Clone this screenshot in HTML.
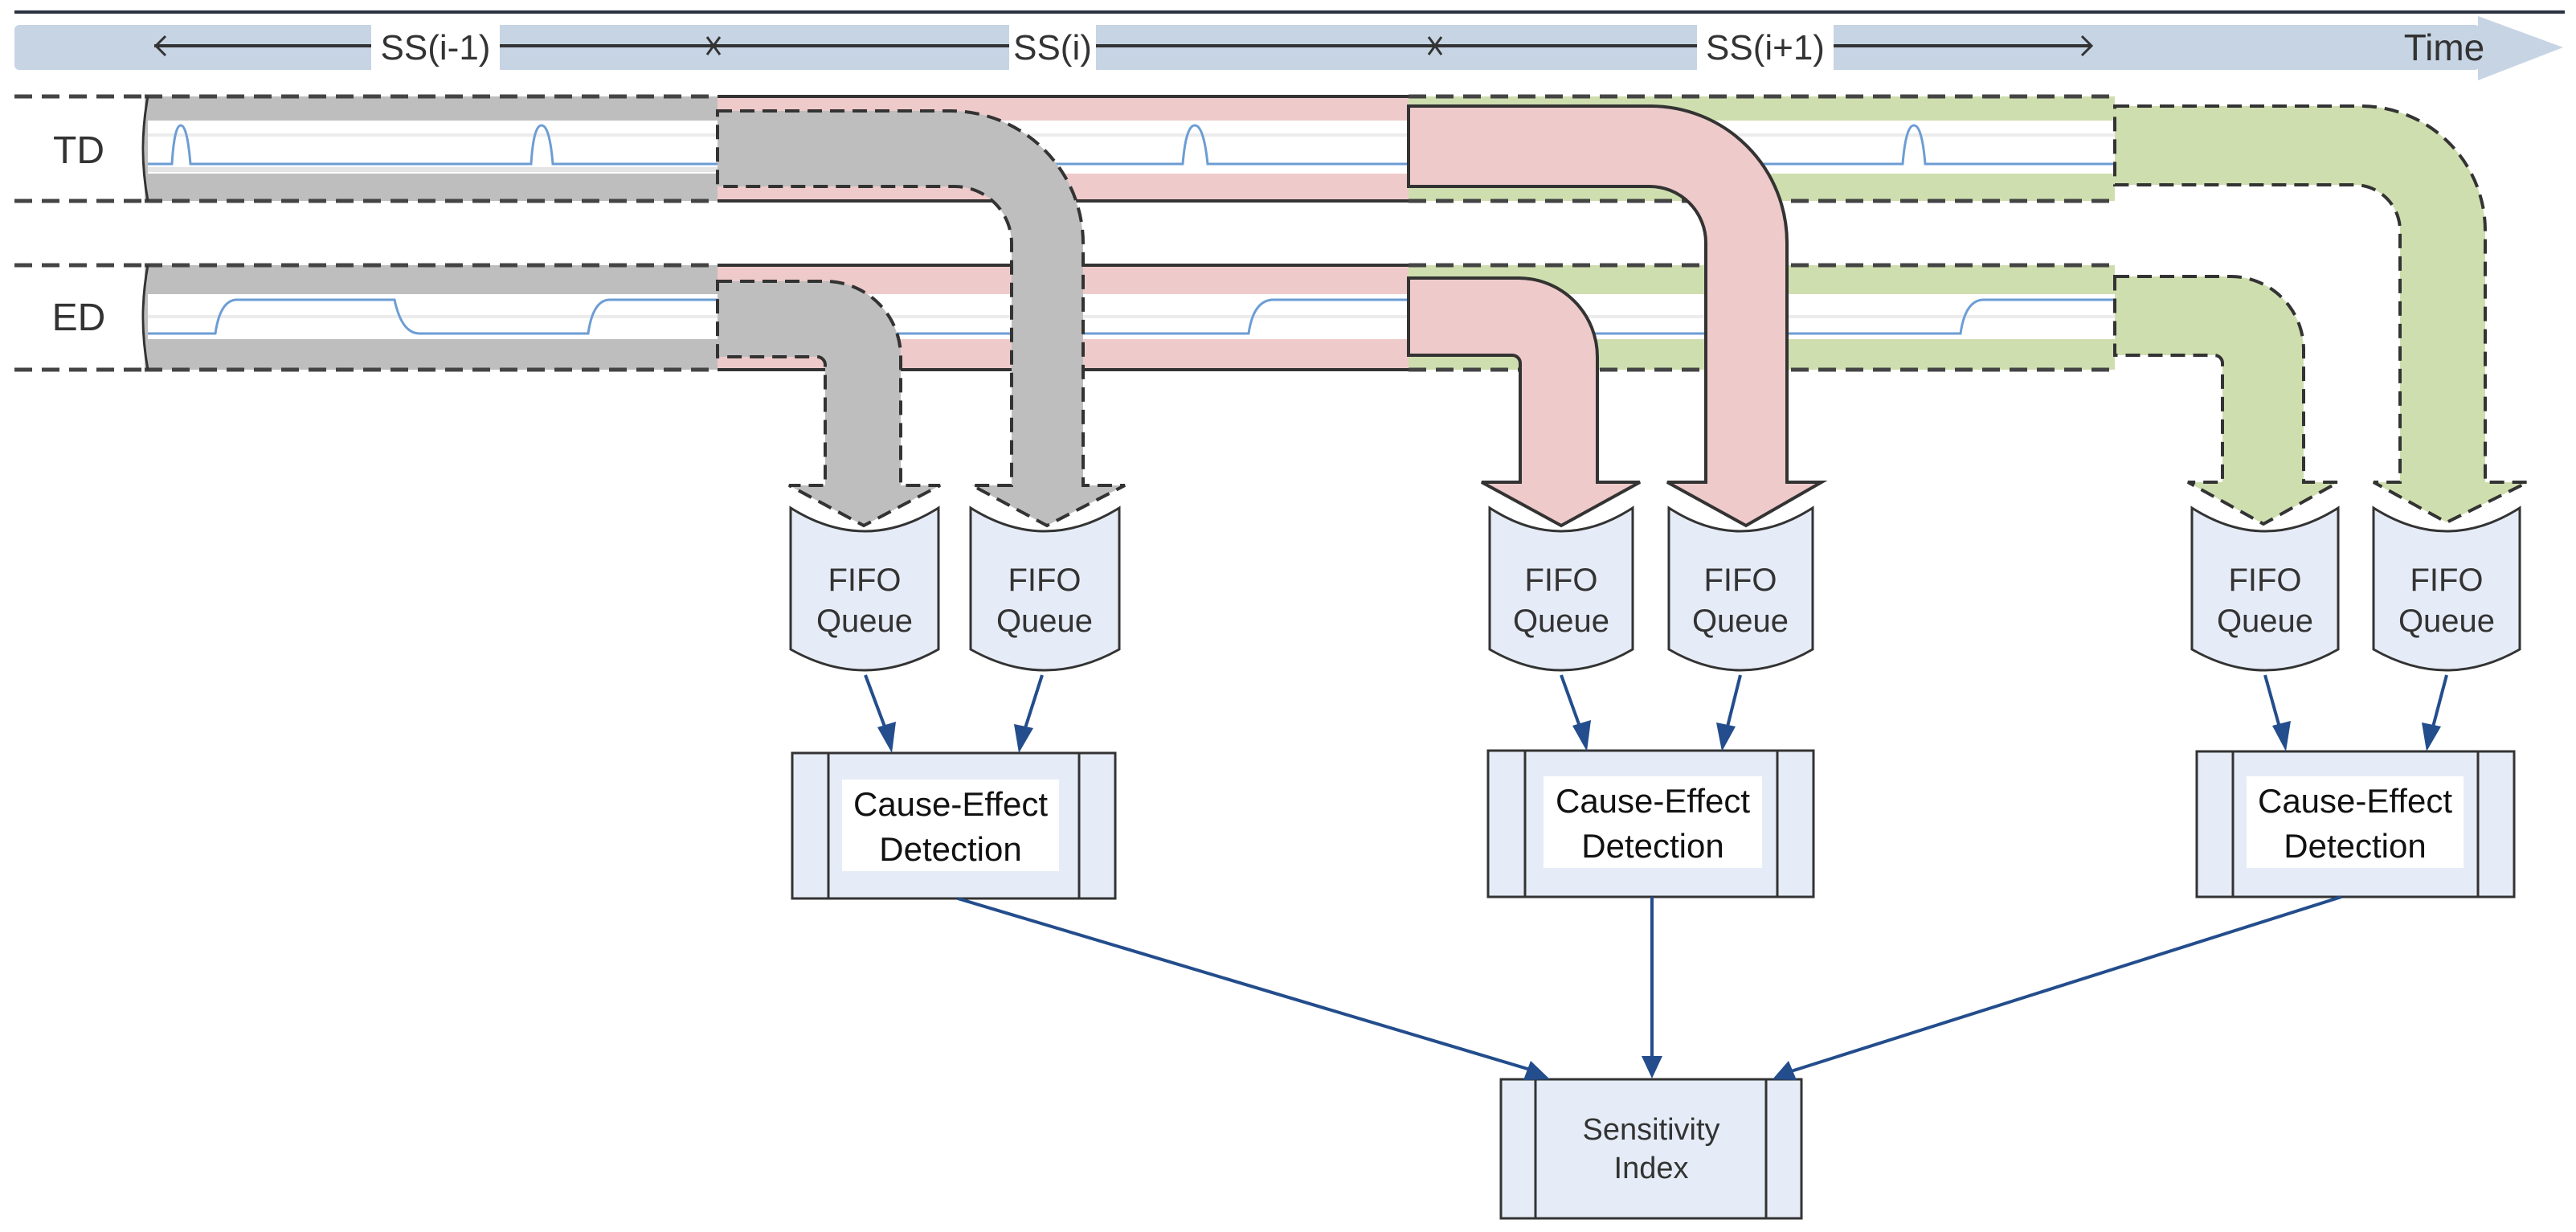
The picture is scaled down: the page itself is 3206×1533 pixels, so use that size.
<!DOCTYPE html>
<html><head><meta charset="utf-8"><style>
html,body{margin:0;padding:0;background:#fff;}
svg{display:block;}
text{font-family:"Liberation Sans",sans-serif;fill:#333;}
</style></head><body>
<svg width="3206" height="1533" viewBox="0 0 3206 1533" xmlns="http://www.w3.org/2000/svg">
<!-- top line -->
<line x1="18" y1="15" x2="3192" y2="15" stroke="#2b3340" stroke-width="4"/>
<!-- time bar -->
<rect x="18" y="31" width="3068" height="56" fill="#c6d4e4" rx="6"/>
<polygon points="3084,20 3190,59 3084,100" fill="#c6d4e4"/>
<rect x="462" y="31" width="160" height="56" fill="#fff"/>
<rect x="1256" y="31" width="108" height="56" fill="#fff"/>
<rect x="2112" y="31" width="170" height="56" fill="#fff"/>
<line x1="192" y1="57" x2="462" y2="57" stroke="#333" stroke-width="4"/>
<line x1="622" y1="57" x2="1256" y2="57" stroke="#333" stroke-width="4"/>
<line x1="1364" y1="57" x2="2112" y2="57" stroke="#333" stroke-width="4"/>
<line x1="2282" y1="57" x2="2603" y2="57" stroke="#333" stroke-width="4"/>
<polyline points="206,45 194,57 206,69" fill="none" stroke="#333" stroke-width="3"/>
<polyline points="2591,45 2603,57 2591,69" fill="none" stroke="#333" stroke-width="3"/>
<path d="M880,46 L896,68 M896,46 L880,68" stroke="#333" stroke-width="3"/>
<path d="M1778,46 L1794,68 M1794,46 L1778,68" stroke="#333" stroke-width="3"/>
<text x="542" y="74" font-size="44" text-anchor="middle">SS(i-1)</text>
<text x="1310" y="74" font-size="44" text-anchor="middle">SS(i)</text>
<text x="2197" y="74" font-size="44" text-anchor="middle">SS(i+1)</text>
<text x="3042" y="75" font-size="46" text-anchor="middle">Time</text>

<!-- labels -->
<text x="98" y="203" font-size="48" text-anchor="middle">TD</text>
<text x="98" y="411" font-size="48" text-anchor="middle">ED</text>
<g stroke="#444" stroke-width="5" stroke-dasharray="22 12">
<line x1="18" y1="120" x2="180" y2="120"/><line x1="18" y1="250" x2="180" y2="250"/>
<line x1="18" y1="330" x2="180" y2="330"/><line x1="18" y1="460" x2="180" y2="460"/>
</g>

<!-- pipes -->
<g id="pipes">
<rect x="180" y="120" width="713" height="130" fill="#bebebe"/>
<rect x="184" y="150" width="709" height="66" fill="#fff"/>
<rect x="184" y="166" width="709" height="4" fill="#ececec"/>
<rect x="184" y="208" width="709" height="6" fill="#e4e4e4"/>
<rect x="180" y="330" width="713" height="130" fill="#bebebe"/>
<rect x="184" y="366" width="709" height="56" fill="#fff"/>
<rect x="184" y="392" width="709" height="4" fill="#ececec"/>
<rect x="893" y="120" width="860" height="130" fill="#efcaca"/>
<rect x="893" y="150" width="860" height="66" fill="#fff"/>
<rect x="893" y="166" width="860" height="4" fill="#ececec"/>
<rect x="893" y="330" width="860" height="130" fill="#efcaca"/>
<rect x="893" y="366" width="860" height="56" fill="#fff"/>
<rect x="893" y="392" width="860" height="4" fill="#ececec"/>
<rect x="1753" y="120" width="879" height="130" fill="#cfdeaf"/>
<rect x="1753" y="150" width="879" height="66" fill="#fff"/>
<rect x="1753" y="166" width="879" height="4" fill="#ececec"/>
<rect x="1753" y="330" width="879" height="130" fill="#cfdeaf"/>
<rect x="1753" y="366" width="879" height="56" fill="#fff"/>
<rect x="1753" y="392" width="879" height="4" fill="#ececec"/>
</g>
<!-- signals -->
<g fill="none" stroke="#6d9dd4" stroke-width="3">
<path d="M184,204 L214,204 Q217,156 225,156 Q233,156 237,204 L661,204 Q664,156 674,156 Q684,156 688,204 L893,204"/>
<path d="M184,415 L268,415 Q274,373 295,373 L491,373 Q500,415 522,415 L732,415 Q738,373 759,373 L893,373"/>
<path d="M893,204 L1472,204 Q1476,156 1487,156 Q1498,156 1503,204 L1753,204"/>
<path d="M893,415 L1554,415 Q1560,373 1585,373 L1753,373"/>
<path d="M1753,204 L2368,204 Q2372,156 2382,156 Q2392,156 2396,204 L2632,204"/>
<path d="M1753,415 L2440,415 Q2446,373 2469,373 L2632,373"/>
</g>
<!-- pipe borders -->
<g stroke="#444" stroke-width="5" stroke-dasharray="22 12" fill="none">
<line x1="180" y1="120" x2="893" y2="120"/><line x1="180" y1="250" x2="893" y2="250"/>
<line x1="180" y1="330" x2="893" y2="330"/><line x1="180" y1="460" x2="893" y2="460"/>
<line x1="1753" y1="120" x2="2632" y2="120"/><line x1="1753" y1="250" x2="2632" y2="250"/>
<line x1="1753" y1="330" x2="2632" y2="330"/><line x1="1753" y1="460" x2="2632" y2="460"/>
</g>
<g stroke="#333" stroke-width="4" fill="none">
<line x1="893" y1="120" x2="1753" y2="120"/><line x1="893" y1="250" x2="1753" y2="250"/>
<line x1="893" y1="330" x2="1753" y2="330"/><line x1="893" y1="460" x2="1753" y2="460"/>
<path d="M184,120 Q172,185 184,250 M184,330 Q172,395 184,460" stroke="#333" stroke-width="3"/>
</g>

<!-- bends -->
<path d="M893,350 L1027,350 A94,94 0 0 1 1121,444 L1121,604 L1170,604 L1075,654 L982,604 L1027,604 L1027,454 A10,10 0 0 0 1017,444 L893,444 Z" fill="#bebebe" stroke="#333" stroke-width="4" stroke-dasharray="18 10"/>
<path d="M893,138 L1183,138 A165,165 0 0 1 1348,303 L1348,604 L1400,604 L1303,654 L1210,604 L1259,604 L1259,303 A71,71 0 0 0 1188,232 L893,232 Z" fill="#bebebe" stroke="#333" stroke-width="4" stroke-dasharray="18 10"/>
<path d="M1753,346 L1890,346 A98,98 0 0 1 1988,444 L1988,600 L2041,600 L1943,654 L1844,600 L1892,600 L1892,452 A10,10 0 0 0 1882,442 L1753,442 Z" fill="#efcaca" stroke="#333" stroke-width="4"/>
<path d="M1753,132 L2054,132 A170,170 0 0 1 2224,302 L2224,600 L2267,600 L2173,654 L2075,600 L2123,600 L2123,302 A70,70 0 0 0 2053,232 L1753,232 Z" fill="#efcaca" stroke="#333" stroke-width="4"/>
<path d="M2632,344 L2776,344 A91,91 0 0 1 2867,435 L2867,600 L2910,600 L2817,652 L2723,600 L2766,600 L2766,452 A10,10 0 0 0 2756,442 L2632,442 Z" fill="#cfdeaf" stroke="#333" stroke-width="4" stroke-dasharray="18 10"/>
<path d="M2632,132 L2938,132 A155,155 0 0 1 3093,287 L3093,600 L3146,600 L3045,650 L2954,600 L2987,600 L2987,287 A57,57 0 0 0 2930,230 L2632,230 Z" fill="#cfdeaf" stroke="#333" stroke-width="4" stroke-dasharray="18 10"/>

<!-- FIFO queues -->
<g fill="#e6ecf7" stroke="#333" stroke-width="3">
<path d="M984,632 Q1076,690 1168,632 L1168,808 Q1076,860 984,808 Z"/>
<path d="M1208,632 Q1300,690 1393,632 L1393,808 Q1300,860 1208,808 Z"/>
<path d="M1854,632 Q1943,690 2032,632 L2032,808 Q1943,860 1854,808 Z"/>
<path d="M2077,632 Q2166,690 2256,632 L2256,808 Q2166,860 2077,808 Z"/>
<path d="M2728,632 Q2819,690 2910,632 L2910,808 Q2819,860 2728,808 Z"/>
<path d="M2954,632 Q3045,690 3136,632 L3136,808 Q3045,860 2954,808 Z"/>
</g>
<g font-size="40" text-anchor="middle">
<text x="1076" y="735">FIFO</text><text x="1076" y="786">Queue</text>
<text x="1300" y="735">FIFO</text><text x="1300" y="786">Queue</text>
<text x="1943" y="735">FIFO</text><text x="1943" y="786">Queue</text>
<text x="2166" y="735">FIFO</text><text x="2166" y="786">Queue</text>
<text x="2819" y="735">FIFO</text><text x="2819" y="786">Queue</text>
<text x="3045" y="735">FIFO</text><text x="3045" y="786">Queue</text>
</g>

<!-- CE boxes -->
<g fill="#e6ecf7" stroke="#333" stroke-width="3">
<rect x="986" y="937" width="402" height="181"/>
<line x1="1031" y1="937" x2="1031" y2="1118"/><line x1="1343" y1="937" x2="1343" y2="1118"/>
<rect x="1852" y="934" width="405" height="182"/>
<line x1="1898" y1="934" x2="1898" y2="1116"/><line x1="2212" y1="934" x2="2212" y2="1116"/>
<rect x="2734" y="935" width="395" height="181"/>
<line x1="2779" y1="935" x2="2779" y2="1116"/><line x1="3084" y1="935" x2="3084" y2="1116"/>
<rect x="1868" y="1343" width="374" height="173"/>
<line x1="1911" y1="1343" x2="1911" y2="1516"/><line x1="2198" y1="1343" x2="2198" y2="1516"/>
</g>
<g fill="#fff">
<rect x="1048" y="970" width="270" height="114"/>
<rect x="1921" y="966" width="272" height="114"/>
<rect x="2796" y="966" width="270" height="114"/>
</g>
<g font-size="42" text-anchor="middle">
<text x="1183" y="1015" style="fill:#111">Cause-Effect</text><text x="1183" y="1071" style="fill:#111">Detection</text>
<text x="2057" y="1011" style="fill:#111">Cause-Effect</text><text x="2057" y="1067" style="fill:#111">Detection</text>
<text x="2931" y="1011" style="fill:#111">Cause-Effect</text><text x="2931" y="1067" style="fill:#111">Detection</text>
</g>
<g font-size="38" text-anchor="middle">
<text x="2055" y="1418">Sensitivity</text><text x="2055" y="1466">Index</text>
</g>

<!-- connectors -->
<g stroke="#234d8c" stroke-width="4" fill="none">
<line x1="1077" y1="840" x2="1104" y2="912"/>
<line x1="1297" y1="840" x2="1274" y2="912"/>
<line x1="1943" y1="840" x2="1969" y2="912"/>
<line x1="2166" y1="840" x2="2148" y2="912"/>
<line x1="2819" y1="840" x2="2839" y2="912"/>
<line x1="3045" y1="840" x2="3026" y2="912"/>
<line x1="1192" y1="1118" x2="1908" y2="1332"/>
<line x1="2056" y1="1116" x2="2056" y2="1318"/>
<line x1="2914" y1="1116" x2="2226" y2="1334"/>
</g>
<g fill="#234d8c">
<polygon points="1110,937 1092,905 1115,898"/>
<polygon points="1268,937 1262,901 1286,906"/>
<polygon points="1975,935 1957,903 1980,896"/>
<polygon points="2143,935 2136,899 2160,904"/>
<polygon points="2845,935 2828,903 2851,897"/>
<polygon points="3020,935 3014,899 3038,904"/>
<polygon points="1929,1343 1896,1344 1905,1320"/>
<polygon points="2056,1342 2043,1314 2069,1314"/>
<polygon points="2206,1343 2226,1320 2236,1344"/>
</g>
</svg>
</body></html>
